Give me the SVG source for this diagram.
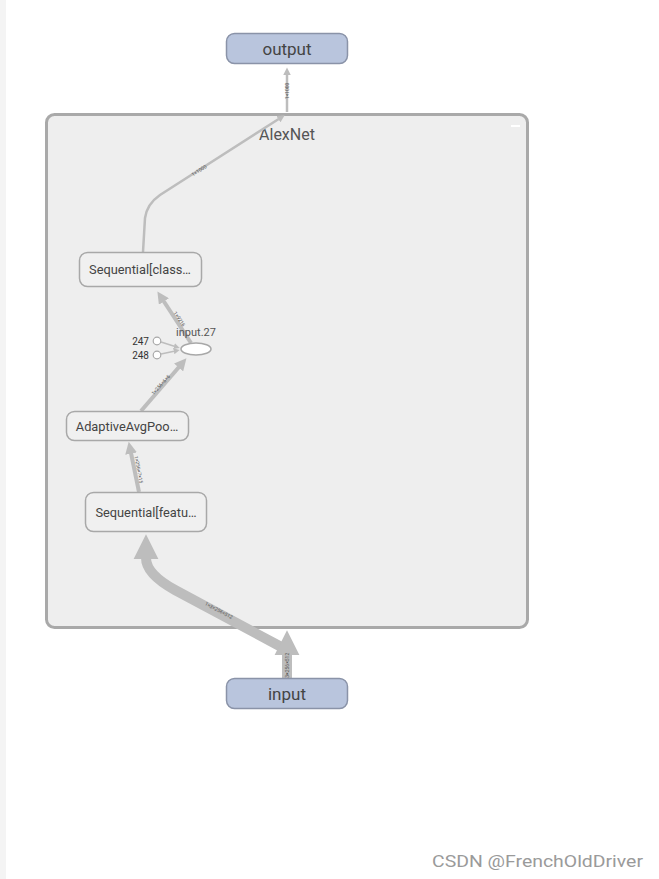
<svg xmlns="http://www.w3.org/2000/svg" width="659" height="879" viewBox="0 0 659 879">
<defs>
<style>
text{font-family:Roboto,"Liberation Sans",sans-serif;}
.io rect{fill:#b9c5dd;stroke:#8a93a8;stroke-width:1.5;}
.io text{font-size:17px;fill:#444;text-anchor:middle;}
.op rect{fill:#f0f0f0;stroke:#a8a8a8;stroke-width:1.5;}
.op text{font-size:12.8px;fill:#444;text-anchor:middle;}
.e{fill:none;stroke:#bdbdbd;}
.lbl{font-size:5px;fill:#555;text-anchor:middle;}
.cst{font-size:10px;fill:#333;text-anchor:end;}
</style>
<marker id="ah" viewBox="0 0 10 10" refX="0.5" refY="5" markerWidth="3" markerHeight="3" orient="auto" markerUnits="strokeWidth"><path d="M0,0 L10,5 L0,10 z" fill="#bdbdbd"/></marker>
<marker id="ahs" viewBox="0 0 10 10" refX="0.5" refY="5" markerWidth="4" markerHeight="4" orient="auto" markerUnits="strokeWidth"><path d="M0,0 L10,5 L0,10 z" fill="#bdbdbd"/></marker>
<marker id="ahb" viewBox="0 0 10 10" refX="0.5" refY="5" markerWidth="2.5" markerHeight="2.6" orient="auto" markerUnits="strokeWidth"><path d="M0,0 L10,5 L0,10 z" fill="#bdbdbd"/></marker>
</defs>
<rect x="0" y="0" width="659" height="879" fill="#ffffff"/>
<rect x="0" y="0" width="6" height="879" fill="#f4f4f4"/>

<g id="AlexNet">
<rect x="46.5" y="114.5" width="481" height="513" rx="8" fill="#eeeeee" stroke="#a9a9a9" stroke-width="3"/>
<text x="287" y="140" font-size="16" fill="#555" text-anchor="middle">AlexNet</text>
<rect x="511" y="125" width="9" height="2" fill="#ffffff"/>
</g>

<g id="connectors">
<path class="e" d="M287,650 L175,590 Q146,574 146,558" stroke-width="10" marker-end="url(#ahb)"/>
<path class="e" d="M287,678 L287,654" stroke-width="10" marker-end="url(#ahb)"/>
<text class="lbl" transform="translate(218,612) rotate(28)" font-size="6">1×3×256×512</text>
<text class="lbl" transform="translate(289,668) rotate(-90)" font-size="6">1×3×256×512</text>
<path class="e" d="M139,492 L131,453" stroke-width="4" marker-end="url(#ah)"/>
<text class="lbl" transform="translate(137,470) rotate(79)">1×256×7×15</text>
<path class="e" d="M141,411 L179,367" stroke-width="4" marker-end="url(#ah)"/>
<text class="lbl" transform="translate(162,386) rotate(-48)">1×256×6×6</text>
<path class="e" d="M191,343 L163.6,301" stroke-width="4" marker-end="url(#ah)"/>
<text class="lbl" transform="translate(178,320) rotate(56)">1×9216</text>
<path class="e" d="M161,342 L174.3,346.2" stroke-width="1.5" marker-end="url(#ahs)"/>
<path class="e" d="M161,354 L174.1,351.2" stroke-width="1.5" marker-end="url(#ahs)"/>
<path class="e" d="M143,252 L145,218 Q147,204 160,195 L278.7,119" stroke-width="2.5" marker-end="url(#ah)"/>
<text class="lbl" transform="translate(200,172) rotate(-33)">1×1000</text>
<path class="e" d="M287,112 L287,74.5" stroke-width="2.5" marker-end="url(#ah)"/>
<text class="lbl" transform="translate(289,91) rotate(-90)">1×1000</text>
</g>

<g id="output" class="io">
<rect x="226.5" y="33.5" width="121" height="30" rx="8"/>
<text x="287" y="54.5">output</text>
</g>

<g id="input" class="io">
<rect x="226.5" y="678.5" width="121" height="30" rx="8"/>
<text x="287" y="700">input</text>
</g>

<g id="classifier" class="op">
<rect x="79.5" y="252.5" width="122" height="34" rx="8"/>
<text x="140" y="273.5">Sequential[class…</text>
</g>

<g id="input27">
<ellipse cx="196" cy="349" rx="15" ry="6" fill="#ffffff" stroke="#a8a8a8" stroke-width="1.5"/>
<text x="196" y="336" font-size="11" fill="#555" text-anchor="middle">input.27</text>
</g>

<g id="c247">
<circle cx="157" cy="341" r="3.8" fill="#ffffff" stroke="#a8a8a8" stroke-width="1.2"/>
<text class="cst" x="149" y="344.5">247</text>
</g>
<g id="c248">
<circle cx="157" cy="355" r="3.8" fill="#ffffff" stroke="#a8a8a8" stroke-width="1.2"/>
<text class="cst" x="149" y="358.5">248</text>
</g>

<g id="avgpool" class="op">
<rect x="66.5" y="411.5" width="122" height="29" rx="8"/>
<text x="127" y="430.5">AdaptiveAvgPoo…</text>
</g>

<g id="features" class="op">
<rect x="85.5" y="492.5" width="121" height="39" rx="8"/>
<text x="146" y="516.5">Sequential[featu…</text>
</g>

<text x="643" y="867" font-size="16" fill="#9a9a9a" text-anchor="end" textLength="211" lengthAdjust="spacingAndGlyphs" font-family="'Liberation Sans',Arial,sans-serif">CSDN @FrenchOldDriver</text>
</svg>
